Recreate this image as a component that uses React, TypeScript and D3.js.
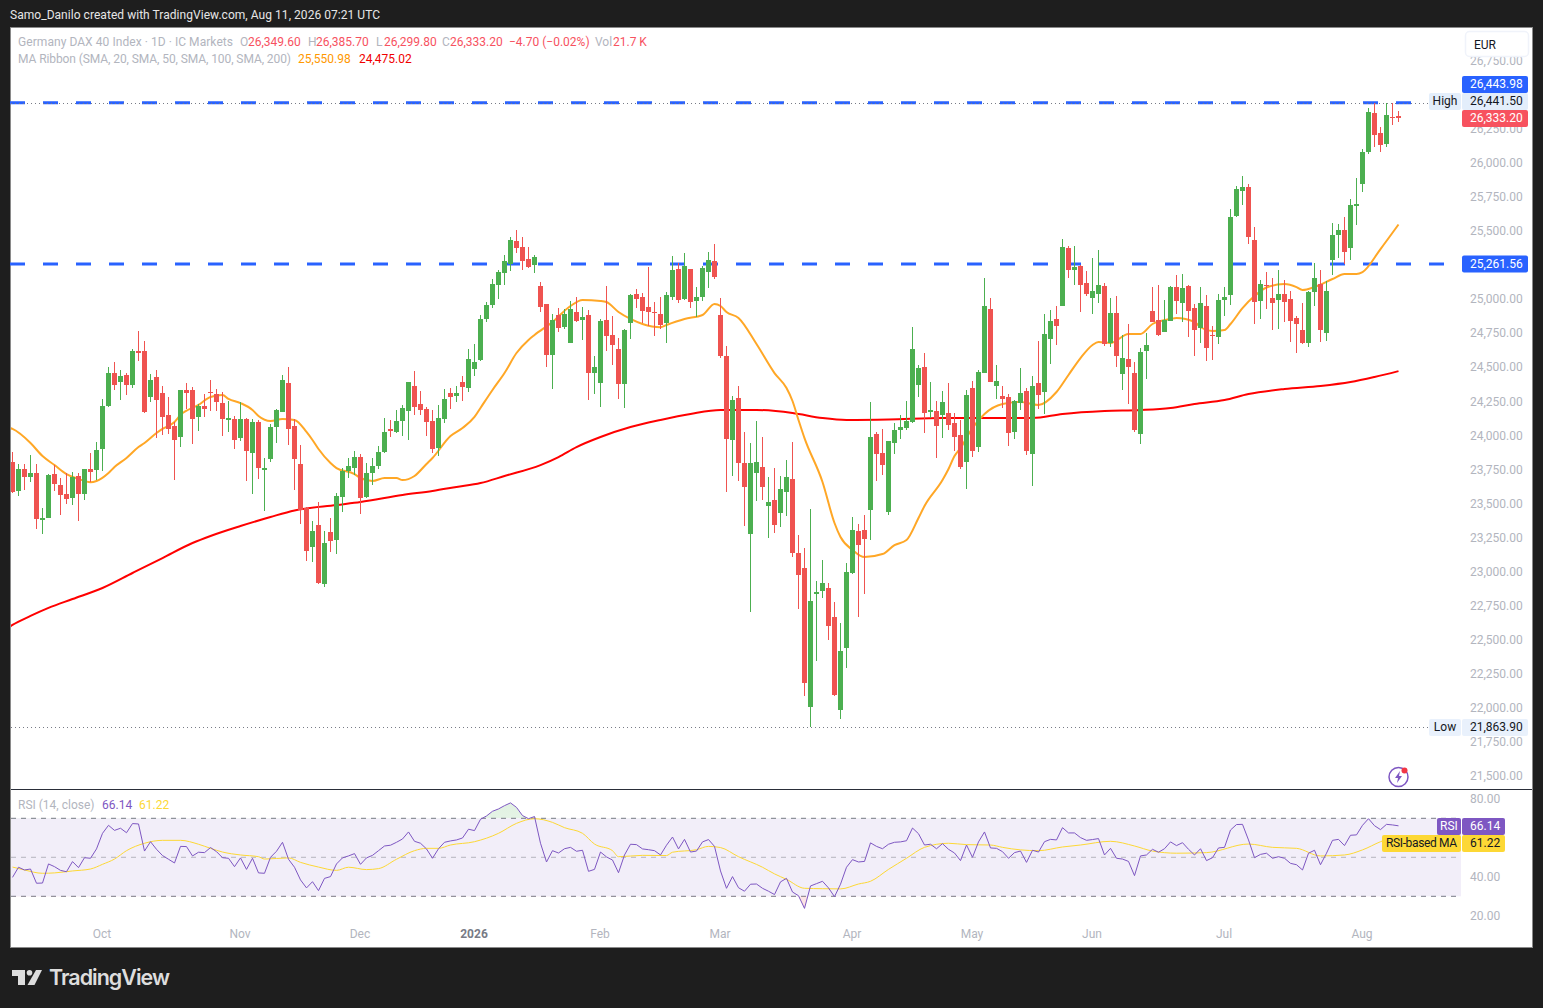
import { useEffect, useRef } from "react";
import * as d3 from "d3";

// [open, high, low, close] per session, grouped by month
const sep25 = [
  [23809, 23882, 23584, 23588], [23596, 23794, 23562, 23757], [23757, 23794, 23603, 23698], [23698, 23860, 23662, 23728],
  [23728, 23794, 23317, 23390], [23383, 23471, 23280, 23398], [23398, 23720, 23395, 23713], [23720, 23786, 23596, 23647],
  [23640, 23691, 23420, 23566], [23574, 23728, 23500, 23537], [23544, 23735, 23493, 23698], [23706, 23728, 23376, 23574],
  [23574, 23757, 23530, 23757], [23757, 23875, 23662, 23735], [23750, 23955, 23676, 23897],
];
const oct25 = [
  [23904, 24271, 23742, 24219], [24219, 24506, 24212, 24462], [24462, 24542, 24337, 24373], [24395, 24484, 24263, 24439],
  [24447, 24462, 24300, 24373], [24373, 24638, 24351, 24623], [24623, 24770, 24550, 24608], [24623, 24696, 24168, 24175],
  [24285, 24454, 24249, 24410], [24432, 24484, 23985, 24263], [24315, 24366, 24007, 24139], [24153, 24285, 24014, 24051],
  [24073, 24102, 23676, 23970], [23992, 24337, 23919, 24337], [24337, 24388, 24197, 24315], [24337, 24359, 23941, 24124],
  [24139, 24234, 24036, 24219], [24219, 24307, 24139, 24197], [24322, 24410, 24183, 24315], [24307, 24344, 24183, 24249],
  [24241, 24322, 23999, 24124], [24117, 24256, 24029, 24131], [24124, 24146, 23904, 23970],
];
const nov25 = [
  [23984, 24246, 23963, 24124], [24124, 24129, 23669, 23889], [23874, 24124, 23574, 24102], [24102, 24117, 23684, 23764],
  [23750, 23838, 23449, 23764], [23830, 24087, 23808, 24065], [24065, 24197, 23948, 24190], [24175, 24447, 24175, 24410],
  [24388, 24505, 23933, 24051], [24073, 24124, 23603, 23830], [23794, 23933, 23354, 23456], [23471, 23481, 23082, 23155],
  [23185, 23376, 23075, 23302], [23346, 23515, 22913, 22921], [22913, 23302, 22891, 23214], [23295, 23398, 23148, 23229],
  [23236, 23579, 23133, 23559], [23552, 23764, 23442, 23742], [23742, 23838, 23691, 23779], [23764, 23889, 23713, 23845],
];
const dec25 = [
  [23845, 23867, 23427, 23544], [23552, 23801, 23544, 23728], [23728, 23838, 23640, 23779], [23779, 23926, 23757, 23882],
  [23882, 24131, 23874, 24029], [24051, 24117, 23992, 24036], [24029, 24190, 24021, 24109], [24109, 24227, 23999, 24205],
  [24183, 24395, 23970, 24395], [24366, 24476, 24153, 24212], [24234, 24329, 24153, 24190], [24197, 24212, 23999, 24102],
  [24109, 24190, 23874, 23904], [23911, 24227, 23852, 24131], [24124, 24344, 24095, 24271], [24315, 24351, 24197, 24285],
  [24293, 24366, 24249, 24315], [24395, 24439, 24256, 24359], [24351, 24638, 24322, 24564],
];
const jan26 = [
  [24491, 24674, 24439, 24542], [24557, 24887, 24549, 24858], [24858, 24982, 24836, 24960], [24960, 25151, 24938, 25114],
  [25107, 25217, 25004, 25202], [25195, 25327, 25107, 25283], [25261, 25459, 25210, 25437], [25430, 25511, 25342, 25379],
  [25386, 25459, 25217, 25283], [25298, 25386, 25232, 25239], [25254, 25327, 25195, 25313], [25100, 25129, 24909, 24946],
  [24968, 24968, 24505, 24593], [24593, 24894, 24344, 24850], [24887, 24938, 24762, 24792], [24799, 24931, 24784, 24894],
  [24682, 24990, 24682, 24931], [24909, 25019, 24836, 24843], [24850, 24946, 24704, 24872], [24887, 24924, 24263, 24461],
  [24461, 24586, 24307, 24505],
];
const feb26 = [
  [24388, 24858, 24212, 24843], [24850, 25100, 24623, 24733], [24740, 24880, 24520, 24667], [24638, 24718, 24271, 24381],
  [24381, 24784, 24205, 24777], [24828, 25041, 24711, 25034], [25041, 25078, 24938, 25004], [25019, 25048, 24828, 24916],
  [24946, 25239, 24806, 24909], [24909, 24982, 24733, 24902], [24894, 25019, 24784, 24814], [24828, 25056, 24682, 25034],
  [25019, 25320, 24997, 25217], [25224, 25269, 24975, 24997], [25004, 25342, 24997, 25246], [25224, 25224, 24938, 24982],
  [24990, 25092, 24872, 25019], [25019, 25246, 24990, 25232], [25202, 25349, 25085, 25291], [25283, 25408, 25151, 25166],
];
const mar26 = [
  [24887, 25012, 24571, 24586], [24586, 24659, 23588, 23977], [23970, 24293, 23706, 24263], [24278, 24366, 23669, 23801],
  [23801, 24029, 23339, 23625], [23280, 23948, 22708, 23801], [23728, 24109, 23522, 23808], [23772, 23992, 23530, 23625],
  [23486, 23698, 23251, 23515], [23530, 23764, 23287, 23346], [23434, 23706, 23331, 23610], [23588, 23823, 23412, 23698],
  [23684, 23955, 23111, 23141], [23141, 23273, 22730, 22979], [23031, 23177, 22091, 22187], [22011, 23464, 21864, 22789],
  [22840, 22935, 22348, 22855], [22862, 23089, 22811, 22921], [22884, 22921, 22502, 22605], [22671, 22781, 22095, 22099],
  [21989, 22627, 21923, 22422], [22444, 23067, 22297, 23001],
];
const apr26 = [
  [22994, 23405, 22990, 23309], [23302, 23354, 22671, 23199], [23309, 23420, 22840, 23243], [23456, 24249, 23236, 23992],
  [24014, 24029, 23669, 23867], [23874, 24051, 23713, 23786], [23442, 23962, 23420, 23962], [23948, 24095, 23867, 24043],
  [24043, 24153, 23977, 24065], [24058, 24256, 24043, 24109], [24102, 24799, 24098, 24637], [24373, 24520, 24285, 24498],
  [24505, 24608, 24021, 24168], [24175, 24395, 24131, 24190], [24183, 24256, 23838, 24073], [24153, 24329, 23984, 24249],
  [24168, 24388, 24043, 24080], [24095, 24168, 23890, 23992], [24007, 24117, 23757, 23772], [23809, 24337, 23611, 24300],
];
const may26 = [
  [24352, 24403, 23845, 23890], [23919, 24484, 23882, 24469], [24462, 25159, 24458, 24953], [24931, 25012, 24392, 24396],
  [24366, 24520, 24271, 24403], [24293, 24366, 24205, 24271], [24286, 24308, 23926, 24022], [24029, 24264, 23978, 24256],
  [24242, 24498, 24190, 24315], [24330, 24352, 23860, 23890], [23868, 24440, 23633, 24366], [24388, 24697, 24198, 24300],
  [24322, 24895, 24161, 24748], [24711, 24924, 24528, 24843], [24858, 24953, 24667, 24807], [24953, 25445, 24950, 25386],
  [25379, 25394, 25159, 25218], [25218, 25394, 25107, 25240], [25247, 25254, 24909, 25107], [25122, 25210, 25027, 25041],
];
const jun26 = [
  [25012, 25306, 24895, 25063], [25041, 25364, 24975, 25107], [25100, 25122, 24660, 24675], [24682, 25012, 24653, 24902],
  [24902, 25027, 24506, 24587], [24454, 24741, 24337, 24572], [24565, 24821, 24234, 24506], [24462, 24543, 24029, 24044],
  [24014, 24645, 23941, 24616], [24623, 24755, 24418, 24667], [24917, 25093, 24832, 24836], [24851, 25107, 24733, 24741],
  [24763, 24997, 24760, 24851], [24843, 25100, 24840, 25093], [25093, 25181, 24895, 24990], [24975, 25188, 24836, 25085],
  [25100, 25107, 24726, 24917], [24939, 24968, 24586, 24777], [24792, 25093, 24682, 24975], [24953, 25034, 24550, 24645],
  [24740, 24806, 24557, 24733], [24726, 25041, 24674, 24997],
];
const jul26 = [
  [24997, 25093, 24880, 25019], [25034, 25665, 24961, 25606], [25614, 25834, 25606, 25812], [25797, 25907, 25694, 25826],
  [25826, 25848, 25408, 25459], [25437, 25533, 24821, 24983], [24990, 25144, 24858, 25115], [25107, 25203, 24931, 25100],
  [25012, 25159, 24777, 24975], [24997, 25217, 24784, 25041], [25041, 25144, 24836, 24983], [25005, 25063, 24689, 24843],
  [24865, 24880, 24608, 24821], [24777, 24975, 24674, 24682], [24682, 25063, 24652, 25056], [25056, 25269, 24953, 25159],
  [25115, 25217, 24689, 24777], [24755, 25137, 24696, 25063], [25291, 25562, 25181, 25474], [25474, 25555, 25305, 25511],
  [25511, 25606, 25261, 25349], [25379, 25738, 25291, 25694], [25687, 25892, 25547, 25702],
];
const aug26 = [
  [25848, 26105, 25790, 26083], [26083, 26406, 26068, 26377], [26369, 26441, 26120, 26208], [26223, 26267, 26083, 26134],
  [26142, 26441, 26120, 26355], [26340, 26441.5, 26281, 26333], [26349.6, 26385.7, 26299.8, 26333.2],
];

// [session index, value]
const sma50 = [
  [-1, 24065], [0, 24051], [3, 23948], [5, 23852], [7, 23786], [9, 23720], [11, 23684], [13, 23660], [14, 23669], [16, 23728],
  [17, 23772], [19, 23838], [21, 23918], [22, 23948], [24, 24021], [25, 24051], [27, 24102], [28, 24153], [31, 24227], [33, 24285],
  [35, 24300], [36, 24271], [38, 24241], [40, 24190], [41, 24146], [43, 24109], [45, 24124], [47, 24117], [49, 24029], [50, 23970],
  [51, 23904], [53, 23801], [54, 23764], [57, 23720], [58, 23691], [60, 23669], [62, 23691], [64, 23691], [65, 23676], [67, 23706],
  [69, 23794], [70, 23838], [73, 23999], [75, 24058], [77, 24139], [78, 24205], [80, 24337], [82, 24461], [84, 24608], [86, 24704],
  [87, 24740], [90, 24836], [93, 24953], [95, 24997], [98, 24990], [99, 24982], [101, 24909], [103, 24858], [105, 24821], [108, 24797],
  [109, 24814], [112, 24858], [115, 24887], [117, 24968], [118, 24953], [119, 24909], [121, 24865], [124, 24674], [127, 24461], [129, 24351],
  [130, 24256], [131, 24117], [132, 23984], [135, 23662], [137, 23361], [138, 23258], [140, 23163], [142, 23111], [145, 23133], [147, 23199],
  [149, 23236], [151, 23398], [152, 23486], [155, 23676], [156, 23757], [157, 23852], [158, 23911], [160, 24058], [162, 24161], [165, 24234],
  [168, 24249], [171, 24227], [174, 24322], [176, 24447], [178, 24571], [180, 24667], [181, 24689], [183, 24682], [186, 24748], [188, 24748],
  [190, 24821], [193, 24858], [194, 24865], [197, 24836], [198, 24799], [200, 24770], [202, 24777], [203, 24821], [205, 24938], [207, 25026],
  [209, 25089], [212, 25114], [214, 25092], [215, 25070], [217, 25092], [220, 25151], [222, 25188], [224, 25188], [225, 25202], [228, 25371],
  [231, 25550.98],
];
const sma200 = [
  [-1, 22583], [0, 22613], [3, 22679], [6, 22738], [10, 22803], [15, 22884], [20, 22994], [25, 23104], [30, 23214], [33, 23266],
  [38, 23339], [43, 23405], [47, 23453], [54, 23493], [58, 23515], [65, 23566], [70, 23596], [74, 23625], [78, 23654], [82, 23706],
  [88, 23786], [91, 23845], [94, 23918], [98, 23992], [103, 24065], [108, 24117], [113, 24161], [118, 24190], [124, 24190], [130, 24168],
  [135, 24131], [139, 24117], [146, 24120], [155, 24131], [170, 24131], [175, 24161], [182, 24183], [188, 24190], [193, 24205], [197, 24234],
  [202, 24263], [206, 24307], [212, 24344], [218, 24366], [223, 24395], [227, 24432], [231, 24475.02],
];

const rsiValues = [
  39.7, 44.9, 43.5, 44.0, 36.7, 36.8, 46.6, 45.2, 43.3, 42.6, 47.8, 44.7, 49.8, 49.5, 54.3, 62.3, 66.4, 63.8, 64.9, 62.6,
  67.3, 67.1, 53.2, 58.0, 54.1, 50.9, 49.0, 47.1, 55.6, 55.5, 50.7, 52.6, 52.4, 55.0, 52.9, 49.8, 49.5, 45.2, 49.7, 43.8,
  49.5, 42.0, 41.8, 50.0, 53.1, 57.7, 49.0, 44.9, 38.4, 34.3, 37.5, 32.9, 39.2, 40.1, 46.6, 49.7, 50.7, 51.9, 46.4, 49.7,
  51.0, 53.4, 55.8, 56.2, 57.7, 59.4, 63.0, 58.2, 57.2, 54.3, 49.5, 54.4, 57.7, 58.4, 58.9, 59.9, 64.4, 63.7, 69.5, 71.2,
  73.6, 74.8, 76.5, 77.9, 75.6, 71.4, 69.8, 70.9, 57.2, 47.6, 53.4, 52.2, 54.4, 55.1, 53.1, 53.6, 42.8, 43.8, 52.7, 50.2,
  48.6, 42.1, 51.2, 56.7, 56.5, 54.3, 53.9, 53.4, 51.2, 56.2, 60.4, 54.3, 59.2, 52.7, 53.2, 57.9, 59.1, 55.6, 43.0, 34.1,
  40.1, 34.4, 32.6, 36.2, 36.3, 34.1, 32.6, 30.9, 37.4, 39.2, 32.2, 30.3, 23.8, 35.3, 36.5, 37.7, 34.3, 29.8, 36.2, 44.9,
  48.8, 47.6, 47.9, 57.4, 55.6, 54.4, 56.7, 57.7, 57.9, 58.5, 65.0, 62.1, 56.3, 56.7, 54.4, 57.0, 54.1, 52.2, 48.3, 56.3,
  50.0, 57.9, 63.0, 54.8, 54.6, 52.9, 49.5, 52.4, 53.2, 47.4, 53.6, 52.7, 58.0, 59.2, 58.9, 65.2, 62.5, 62.5, 60.1, 58.7,
  59.1, 59.6, 51.2, 54.6, 49.5, 49.1, 47.9, 40.6, 50.7, 51.2, 54.1, 52.6, 54.4, 57.9, 56.0, 57.5, 54.1, 51.2, 54.4, 48.3,
  49.8, 54.8, 55.1, 64.0, 66.8, 66.9, 58.9, 49.8, 51.5, 52.1, 49.5, 50.3, 49.5, 46.9, 46.2, 43.5, 52.1, 53.6, 46.2, 52.1,
  58.7, 59.2, 56.0, 61.3, 61.5, 66.4, 69.8, 66.2, 64.2, 66.9, 66.6, 66.14,
];
const rsiMa = [
  [0, 45.0], [2, 43.5], [5, 41.8], [7, 42.0], [10, 43.0], [13, 44.0], [15, 46.4], [17, 49.1], [19, 53.4], [22, 57.2],
  [25, 58.7], [28, 58.7], [31, 56.7], [33, 54.6], [35, 52.7], [38, 51.2], [41, 50.3], [42, 49.1], [46, 49.7], [48, 47.4],
  [51, 45.0], [54, 43.3], [56, 44.9], [59, 43.7], [61, 44.2], [64, 49.0], [67, 53.4], [69, 54.6], [71, 54.6], [73, 56.3],
  [77, 58.0], [81, 62.3], [84, 67.4], [87, 69.8], [90, 67.9], [92, 65.2], [95, 62.3], [97, 56.8], [100, 53.4], [101, 50.3],
  [105, 51.0], [109, 50.9], [110, 52.6], [114, 53.9], [116, 55.6], [118, 55.0], [121, 50.3], [125, 44.9], [127, 41.5], [129, 38.7],
  [132, 34.1], [135, 33.9], [138, 33.8], [141, 36.3], [143, 37.7], [146, 43.8], [149, 49.5], [152, 55.1], [156, 57.2], [159, 56.5],
  [163, 56.3], [165, 55.1], [168, 53.8], [171, 53.4], [175, 55.3], [178, 56.3], [183, 58.2], [187, 55.8], [190, 53.2], [194, 52.1],
  [199, 52.4], [206, 56.8], [210, 55.1], [214, 54.6], [218, 50.7], [222, 51.2], [225, 53.8], [228, 58.0], [231, 61.22],
];

// 26,500, 25,250 and 60 sit fully behind the price tags, so they are left out
const priceTicks = [
  21500, 21750, 22000, 22250, 22500, 22750, 23000, 23250, 23500, 23750, 24000, 24250, 24500, 24750, 25000, 25500, 25750,
  26000, 26250, 26750,
];
const rsiTicks = [20, 40, 80];
const rsiBands = [30, 50, 70];
const monthLabels = ["Oct", "Nov", "Dec", "2026", "Feb", "Mar", "Apr", "May", "Jun", "Jul", "Aug"];
const monthStarts = [15, 38, 58, 77, 98, 118, 140, 160, 180, 202, 225];
const levelLines = [26443.98, 25261.56];
const allTimeHigh = 26441.5;
const allTimeLow = 21863.9;

const candles = [sep25, oct25, nov25, dec25, jan26, feb26, mar26, apr26, may26, jun26, jul26, aug26].flat();

const GREEN = "#4CAF50";
const RED = "#EF5350";
const PURPLE = "#7E57C2";
const YELLOW = "#FDD835";
const GREY = "#B2B5BE";
const FONT = "Roboto, 'Noto Sans', sans-serif";
const fmt = d3.format(",.2f");

export default function App() {
  const svgRef = useRef<SVGSVGElement | null>(null);

  useEffect(() => {
    if (!svgRef.current) return;
    const svg = d3.select(svgRef.current);
    svg.selectAll("*").remove();

    const plotLeft = 11;
    const plotRight = 1461;
    const paneSplit = 789;

    const x = d3.scaleLinear().domain([0, 231]).range([12.5, 1398.5]);
    const y = d3.scaleLinear().domain([21500, 26000]).range([776.65, 163.3]);
    const yRsi = d3.scaleLinear().domain([20, 80]).range([915.8, 798.8]);

    const defs = svg.append("defs");
    defs.append("clipPath").attr("id", "plot-clip").append("rect")
      .attr("x", plotLeft).attr("y", 28).attr("width", plotRight - plotLeft).attr("height", paneSplit - 28);
    defs.append("clipPath").attr("id", "rsi-clip").append("rect")
      .attr("x", plotLeft).attr("y", paneSplit + 1).attr("width", plotRight - plotLeft).attr("height", 130);
    defs.append("clipPath").attr("id", "over-clip").append("rect")
      .attr("x", plotLeft).attr("y", paneSplit).attr("width", plotRight - plotLeft).attr("height", yRsi(70) - paneSplit);
    defs.append("clipPath").attr("id", "under-clip").append("rect")
      .attr("x", plotLeft).attr("y", yRsi(30)).attr("width", plotRight - plotLeft).attr("height", 40);
    const overGrad = defs.append("linearGradient").attr("id", "over-grad").attr("x1", 0).attr("x2", 0).attr("y1", 0).attr("y2", 1);
    overGrad.append("stop").attr("offset", "0%").attr("stop-color", GREEN).attr("stop-opacity", 0.17);
    overGrad.append("stop").attr("offset", "100%").attr("stop-color", GREEN).attr("stop-opacity", 0);
    const underGrad = defs.append("linearGradient").attr("id", "under-grad").attr("x1", 0).attr("x2", 0).attr("y1", 0).attr("y2", 1);
    underGrad.append("stop").attr("offset", "0%").attr("stop-color", RED).attr("stop-opacity", 0);
    underGrad.append("stop").attr("offset", "100%").attr("stop-color", RED).attr("stop-opacity", 0.17);

    // frame
    svg.append("rect").attr("width", 1543).attr("height", 1008).attr("fill", "#1E1E1E");
    svg.append("rect").attr("x", 10.5).attr("y", 27.5).attr("width", 1522).attr("height", 920)
      .attr("fill", "#fff").attr("stroke", "#8a8a8a");
    svg.append("rect").attr("x", 11).attr("y", paneSplit).attr("width", 1521).attr("height", 1).attr("fill", "#2a2e39");

    const text = (tx: number, ty: number, s: string, fill: string, size = 12, anchor = "start", weight = 400) =>
      svg.append("text").attr("x", tx).attr("y", ty).attr("fill", fill).attr("font-family", FONT)
        .attr("font-size", size).attr("font-weight", weight).attr("text-anchor", anchor)
        .attr("dominant-baseline", "central").text(s);

    // PRICE AXIS
    const priceAxis = svg.append("g").attr("transform", "translate(1470,-0.6)").call(
      d3.axisRight(y).tickValues(priceTicks).tickSize(0).tickPadding(0).tickFormat((d) => fmt(d as number)),
    );
    priceAxis.select(".domain").remove();
    priceAxis.selectAll("text").attr("fill", GREY).attr("font-family", FONT).attr("font-size", 12);

    // PRICE LINES
    const main = svg.append("g").attr("clip-path", "url(#plot-clip)");
    levelLines.forEach((p) => {
      svg.append("line").attr("x1", 10).attr("x2", plotRight).attr("y1", y(p)).attr("y2", y(p))
        .attr("stroke", "#2962FF").attr("stroke-width", 3).attr("stroke-dasharray", "15 18");
    });
    [allTimeHigh, allTimeLow].forEach((p) => {
      svg.append("line").attr("x1", plotLeft).attr("x2", plotRight).attr("y1", Math.round(y(p)) + 0.5).attr("y2", Math.round(y(p)) + 0.5)
        .attr("stroke", "#787B86").attr("stroke-dasharray", "1 3");
    });
    svg.node()!.appendChild(main.node()!);

    // MA RIBBON
    const maLine = d3.line<number[]>().x((d) => x(d[0])).y((d) => y(d[1])).curve(d3.curveMonotoneX);
    main.append("path").datum(sma200).attr("fill", "none").attr("stroke", "#FF0000").attr("stroke-width", 2).attr("d", maLine);
    main.append("path").datum(sma50).attr("fill", "none").attr("stroke", "#FFA726").attr("stroke-width", 2).attr("d", maLine);

    // CANDLES
    const candleG = main.append("g").attr("shape-rendering", "crispEdges");
    candles.forEach(([o, h, l, c], i) => {
      const color = c < o ? RED : GREEN;
      const cx = Math.floor(x(i));
      candleG.append("rect").attr("x", cx).attr("y", y(h)).attr("width", 1).attr("height", Math.max(1, y(l) - y(h))).attr("fill", color);
      const top = y(Math.max(o, c));
      candleG.append("rect").attr("x", cx - 2).attr("y", top).attr("width", 5).attr("height", Math.max(1, y(Math.min(o, c)) - top)).attr("fill", color);
    });

    // RSI PANE
    const rsiG = svg.append("g").attr("clip-path", "url(#rsi-clip)");
    rsiG.append("rect").attr("x", plotLeft).attr("y", yRsi(70)).attr("width", plotRight - plotLeft).attr("height", yRsi(30) - yRsi(70))
      .attr("fill", PURPLE).attr("fill-opacity", 0.1);
    rsiBands.forEach((b) => {
      rsiG.append("line").attr("x1", plotLeft).attr("x2", plotRight).attr("y1", yRsi(b)).attr("y2", yRsi(b))
        .attr("stroke", "#787B86").attr("stroke-opacity", b === 50 ? 0.5 : 1).attr("stroke-dasharray", "5 5");
    });
    const rsiPoints = rsiValues.map((v, i) => [i, v]);
    const rsiFill = d3.area<number[]>().x((d) => x(d[0])).y1((d) => yRsi(d[1]));
    rsiG.append("path").datum(rsiPoints).attr("clip-path", "url(#over-clip)").attr("fill", "url(#over-grad)")
      .attr("d", rsiFill.y0(yRsi(70)));
    rsiG.append("path").datum(rsiPoints).attr("clip-path", "url(#under-clip)").attr("fill", "url(#under-grad)")
      .attr("d", rsiFill.y0(yRsi(30)));
    const rsiLine = d3.line<number[]>().x((d) => x(d[0])).y((d) => yRsi(d[1]));
    rsiG.append("path").datum(rsiMa).attr("fill", "none").attr("stroke", YELLOW).attr("stroke-width", 1)
      .attr("d", rsiLine.curve(d3.curveMonotoneX));
    rsiG.append("path").datum(rsiPoints).attr("fill", "none").attr("stroke", PURPLE).attr("stroke-width", 1)
      .attr("d", rsiLine.curve(d3.curveLinear));

    const rsiAxis = svg.append("g").attr("transform", "translate(1470,0)").call(
      d3.axisRight(yRsi).tickValues(rsiTicks).tickSize(0).tickPadding(0).tickFormat((d) => fmt(d as number)),
    );
    rsiAxis.select(".domain").remove();
    rsiAxis.selectAll("text").attr("fill", GREY).attr("font-family", FONT).attr("font-size", 12);

    // TIME AXIS
    const timeAxis = svg.append("g").attr("transform", "translate(-1,929)").call(
      d3.axisBottom(x).tickValues(monthStarts).tickSize(0).tickPadding(0).tickFormat((_, i) => monthLabels[i]),
    );
    timeAxis.select(".domain").remove();
    timeAxis.selectAll("text").attr("fill", (_, i) => (monthLabels[i] === "2026" ? "#787B86" : GREY))
      .attr("font-weight", (_, i) => (monthLabels[i] === "2026" ? 700 : 400))
      .attr("font-family", FONT).attr("font-size", 12);

    // PRICE TAGS
    const tag = (tx: number, w: number, ty: number, h: number, fill: string) =>
      svg.append("rect").attr("x", tx).attr("y", ty).attr("width", w).attr("height", h).attr("rx", 2).attr("fill", fill);

    tag(1462, 66, 76, 17, "#2962FF");
    text(1470, 83.8, fmt(levelLines[0]), "#fff");
    tag(1429, 32, 93, 17, "#E3EEFB");
    text(1445, 100.8, "High", "#131722", 12, "middle");
    tag(1462, 66, 93, 17, "#E3EEFB");
    text(1470, 100.8, fmt(allTimeHigh), "#131722");
    tag(1462, 66, 110, 17, "#F7525F");
    text(1470, 117.8, "26,333.20", "#fff");
    tag(1462, 66, 255.5, 17, "#2962FF");
    text(1470, 263.6, fmt(levelLines[1]), "#fff");
    tag(1429, 32, 719, 17, "#E9F1FC");
    text(1445, 727, "Low", "#131722", 12, "middle");
    tag(1462, 66, 719, 17, "#E9F1FC");
    text(1470, 727, fmt(allTimeLow), "#131722");

    tag(1437, 24, 818, 17, PURPLE);
    text(1449, 826, "RSI", "#fff", 12, "middle");
    tag(1462, 43, 818, 17, PURPLE);
    text(1470, 826, "66.14", "#fff");
    tag(1382, 79, 835, 17, YELLOW);
    text(1386, 843, "RSI-based MA", "#131722").attr("textLength", 71);
    tag(1462, 43, 835, 17, YELLOW);
    text(1470, 843, "61.22", "#131722");

    // EUR BOX
    svg.append("rect").attr("x", 1465.5).attr("y", 31.5).attr("width", 63).attr("height", 25).attr("rx", 4)
      .attr("fill", "#fff").attr("stroke", "#F0F3FA").attr("stroke-width", 1.5);
    text(1474, 44.5, "EUR", "#131722", 12);

    // LEGEND
    text(10, 14.5, "Samo_Danilo created with TradingView.com, Aug 11, 2026 07:21 UTC", "#E6E6E6", 12).attr("textLength", 370);
    text(18, 42, "Germany DAX 40 Index · 1D · IC Markets", GREY).attr("textLength", 215);
    const ohlc: [number, string, string][] = [
      [240, "O", "26,349.60"], [308, "H", "26,385.70"], [376, "L", "26,299.80"], [442, "C", "26,333.20"],
    ];
    ohlc.forEach(([lx, k, v]) => {
      text(lx, 42, k, GREY);
      text(lx + 8, 42, v, "#F7525F");
    });
    text(509, 42, "−4.70 (−0.02%)", "#F7525F");
    text(595, 42, "Vol", GREY);
    text(613, 42, "21.7 K", "#F7525F");
    text(18, 58.5, "MA Ribbon (SMA, 20, SMA, 50, SMA, 100, SMA, 200)", GREY).attr("textLength", 273);
    text(298, 58.5, "25,550.98", "#FF9800");
    text(359, 58.5, "24,475.02", "#F00000");
    text(18, 805, "RSI (14, close)", GREY);
    text(102, 805, "66.14", PURPLE);
    text(139, 805, "61.22", YELLOW);

    // ALERT ICON
    const icon = svg.append("g").attr("transform", "translate(1398.5,777)");
    icon.append("circle").attr("r", 9.5).attr("fill", "#fff").attr("stroke", PURPLE).attr("stroke-width", 1.5);
    icon.append("path").attr("d", "M1.5,-6 L-3.5,1 L-0.5,1 L-1.5,6 L3.5,-1 L0.5,-1 Z").attr("fill", PURPLE);
    icon.append("circle").attr("cx", 6).attr("cy", -6.5).attr("r", 3).attr("fill", "#F23645");

    // LOGO
    const logo = svg.append("g").attr("fill", "#DDDDDD");
    logo.append("path").attr("d", "M12,970 H25 V985 H18 V976 H12 Z");
    logo.append("circle").attr("cx", 29.5).attr("cy", 972.8).attr("r", 2.8);
    logo.append("path").attr("d", "M36,970 H42 L34.5,985 H27.5 Z");
    logo.append("text").attr("x", 49).attr("y", 985).attr("font-family", "Inter, Lato, sans-serif")
      .attr("font-size", 21.5).attr("font-weight", 600).attr("textLength", 121).text("TradingView");
  }, []);

  return (
    <svg
      ref={svgRef}
      width={1543}
      height={1008}
      style={{ position: "absolute", left: 0, top: 0, display: "block" }}
    />
  );
}
